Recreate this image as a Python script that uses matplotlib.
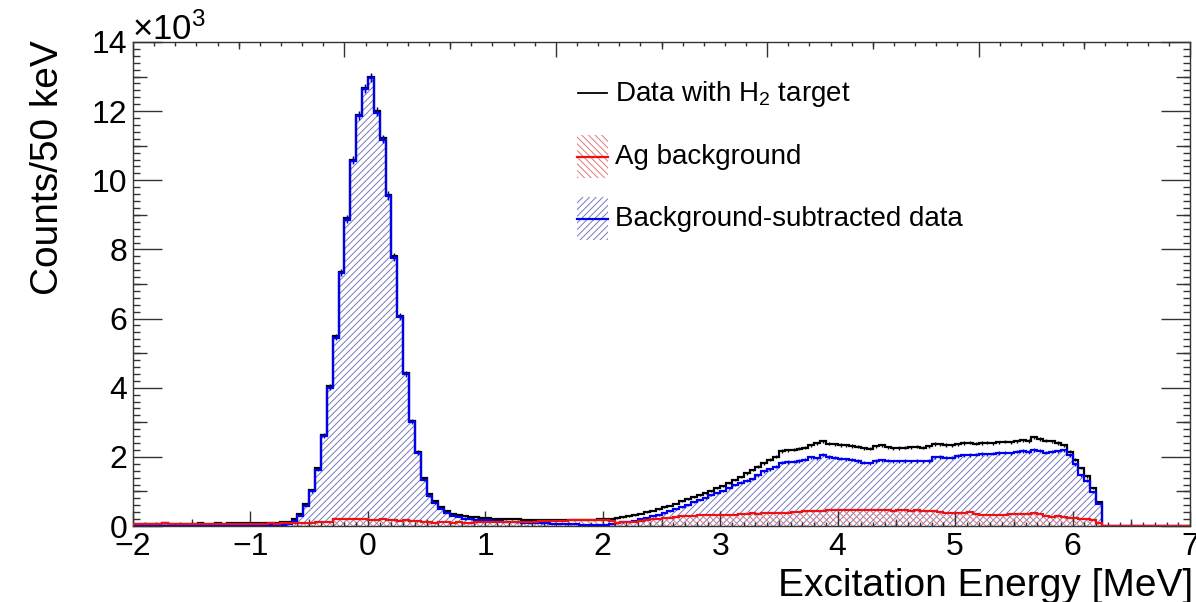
import numpy as np
import matplotlib
matplotlib.use('Agg')
import matplotlib.pyplot as plt
from matplotlib.patches import Rectangle
from matplotlib.lines import Line2D
from matplotlib.ticker import MultipleLocator, FuncFormatter

plt.rcParams['font.family'] = ['Liberation Sans', 'DejaVu Sans']
plt.rcParams['mathtext.fontset'] = 'custom'
plt.rcParams['mathtext.rm'] = 'Liberation Sans'
plt.rcParams['mathtext.it'] = 'Liberation Sans:italic'
plt.rcParams['hatch.linewidth'] = 0.7

# 50 keV bins, -2 .. 7 MeV (180 bins)
edges = np.linspace(-2.0, 7.0, 181)

# counts per bin, one line per MeV
data_h2 = [
    70, 65, 72, 68, 66, 74, 70, 68, 72, 66, 70, 74, 68, 72, 75, 70, 78, 74, 80, 82,
    85, 88, 92, 95, 100, 110, 125, 216, 340, 630, 1040, 1670, 2630, 4040, 5490, 7360, 8900, 10600, 11900, 12680,
    12990, 12000, 11210, 9580, 7800, 6080, 4430, 3050, 2140, 1380, 920, 725, 560, 420, 350, 310, 290, 270, 250, 235,
    225, 215, 208, 200, 195, 192, 188, 185, 182, 180, 178, 176, 175, 175, 176, 178, 180, 182, 185, 190,
    195, 205, 225, 255, 285, 320, 360, 405, 445, 495, 540, 590, 650, 715, 770, 830, 890, 950, 1010, 1090,
    1150, 1240, 1330, 1420, 1520, 1620, 1720, 1820, 1910, 2000, 2170, 2190, 2210, 2240, 2270, 2330, 2390, 2450, 2380, 2360,
    2340, 2330, 2310, 2290, 2250, 2240, 2300, 2330, 2280, 2250, 2260, 2270, 2280, 2290, 2270, 2300, 2370, 2360, 2340, 2330,
    2360, 2400, 2410, 2380, 2400, 2410, 2390, 2420, 2440, 2420, 2450, 2480, 2460, 2560, 2520, 2470, 2450, 2400, 2330, 2150,
    1920, 1680, 1440, 1090, 690, 0, 0, 0, 0, 0, 0, 0, 0, 0, 0, 0, 0, 0, 0, 0,
]

ag_bkg = [
    55, 62, 58, 50, 60, 78, 72, 58, 62, 55, 60, 58, 64, 56, 62, 60, 66, 60, 64, 68,
    68, 70, 72, 75, 72, 78, 80, 85, 90, 95, 100, 110, 115, 120, 205, 215, 195, 205, 190, 200,
    185, 175, 190, 170, 160, 155, 160, 150, 140, 130, 110, 100, 105, 110, 100, 105, 95, 100, 110, 105,
    105, 110, 110, 115, 118, 120, 125, 128, 130, 135, 138, 140, 145, 150, 160, 170, 175, 178, 180, 180,
    170, 140, 100, 105, 110, 125, 150, 185, 195, 210, 220, 230, 255, 285, 285, 300, 315, 310, 315, 320,
    320, 315, 320, 340, 360, 370, 360, 375, 380, 385, 390, 380, 400, 410, 420, 440, 435, 445, 450, 460,
    470, 465, 475, 460, 455, 460, 465, 455, 450, 445, 460, 450, 440, 455, 430, 425, 420, 410, 390, 370,
    380, 390, 395, 360, 330, 320, 310, 325, 330, 340, 350, 360, 350, 385, 340, 300, 265, 280, 250, 235,
    220, 205, 200, 160, 90, 0, 0, 0, 0, 0, 0, 0, 0, 0, 0, 0, 0, 0, 0, 0,
]

subtracted = [
    15, 10, 14, 18, 12, 8, 10, 12, 14, 12, 15, 18, 12, 16, 14, 12, 16, 15, 18, 16,
    20, 22, 25, 25, 30, 40, 60, 150, 300, 590, 1000, 1630, 2590, 4000, 5450, 7320, 8860, 10560, 11860, 12640,
    12950, 11960, 11170, 9540, 7760, 6040, 4390, 3010, 2100, 1330, 870, 670, 505, 390, 300, 270, 200, 190, 180, 170,
    160, 150, 140, 130, 120, 110, 100, 95, 90, 80, 75, 70, 60, 55, 50, 45, 40, 35, 30, 25,
    40, 60, 90, 110, 130, 150, 190, 230, 280, 320, 370, 420, 490, 550, 610, 680, 740, 810, 890, 960,
    1020, 1100, 1190, 1250, 1310, 1360, 1470, 1580, 1640, 1720, 1830, 1850, 1860, 1880, 1920, 1990, 1960, 2060, 2000, 1980,
    1950, 1930, 1920, 1880, 1830, 1810, 1880, 1900, 1890, 1870, 1870, 1880, 1870, 1880, 1870, 1880, 1990, 2000, 1980, 1980,
    2020, 2040, 2050, 2060, 2080, 2070, 2090, 2110, 2120, 2100, 2150, 2170, 2140, 2200, 2180, 2120, 2150, 2160, 2190, 2050,
    1780, 1470, 1310, 980, 650, 0, 0, 0, 0, 0, 0, 0, 0, 0, 0, 0, 0, 0, 0, 0,
]

data_h2 = np.array(data_h2, dtype=float)
ag_bkg = np.array(ag_bkg, dtype=float)
subtracted = np.array(subtracted, dtype=float)
centers = 0.5 * (edges[:-1] + edges[1:])

W, H = 1196, 602
fig = plt.figure(figsize=(W / 100, H / 100), dpi=100)
ax = fig.add_axes([133 / W, 1 - 526 / H, (1190 - 133) / W, (526 - 42) / H])

blue_hatch = '#7878c0'
red_hatch = '#e07878'

# hatched fills
ax.stairs(subtracted, edges, fill=True, facecolor='none', edgecolor=blue_hatch,
          linewidth=0, hatch='/////', zorder=1)
ax.stairs(ag_bkg, edges, fill=True, facecolor='none', edgecolor=red_hatch,
          linewidth=0, hatch='\\\\\\\\\\', zorder=1.5)

# histogram outlines + error bars
ax.stairs(data_h2, edges, color='black', linewidth=1.6, zorder=3)
m = data_h2 > 0
ax.errorbar(centers[m], data_h2[m], yerr=np.sqrt(data_h2[m]), fmt='none',
            ecolor='black', elinewidth=1, zorder=3)
ax.stairs(subtracted, edges, color='#0000ee', linewidth=1.6, zorder=4)
m = subtracted > 0
ax.errorbar(centers[m], subtracted[m], yerr=np.sqrt(data_h2[m]), fmt='none',
            ecolor='#0000ee', elinewidth=1, zorder=4)
ax.stairs(ag_bkg, edges, color='#ee1111', linewidth=1.6, zorder=5)

ax.set_xlim(-2, 7)
ax.set_ylim(0, 14000)

tick_col = '#333333'
for s in ax.spines.values():
    s.set_color(tick_col)
    s.set_linewidth(1.0)

ax.xaxis.set_major_locator(MultipleLocator(1))
ax.xaxis.set_minor_locator(MultipleLocator(0.1))
ax.yaxis.set_major_locator(MultipleLocator(2000))
ax.yaxis.set_minor_locator(MultipleLocator(200))
ax.yaxis.set_major_formatter(FuncFormatter(lambda v, p: f'{v / 1000:g}'))

ax.tick_params(axis='x', which='major', direction='in', length=10.8, width=1,
               color=tick_col, labelsize=23, pad=4, top=False)
ax.tick_params(axis='x', which='minor', direction='in', length=2.6, width=1,
               color=tick_col, top=False)
ax.tick_params(axis='y', which='major', direction='in', length=20.8, width=1,
               color=tick_col, labelsize=23, pad=4, right=True)
ax.tick_params(axis='y', which='minor', direction='in', length=5, width=1,
               color=tick_col, right=True)

# medium ticks (half divisions)
sx = ax.secondary_xaxis('bottom')
sx.set_xticks(np.arange(-1.5, 7, 1))
sx.tick_params(direction='in', length=5, width=1, color=tick_col, labelbottom=False)
sx.spines['bottom'].set_visible(False)
for side in ('left', 'right'):
    sy = ax.secondary_yaxis(side)
    sy.set_yticks(np.arange(1000, 14000, 2000))
    sy.tick_params(direction='in', length=10, width=1, color=tick_col,
                   labelleft=False, labelright=False)
    sy.spines[side].set_visible(False)

# top axis (unlabelled, its own scale 0..5)
fwd = lambda e: (np.asarray(e) + 2.0) * 5.0 / 9.0
inv = lambda u: np.asarray(u) * 9.0 / 5.0 - 2.0
tx = ax.secondary_xaxis('top', functions=(fwd, inv))
tx.xaxis.set_major_locator(MultipleLocator(1))
tx.xaxis.set_minor_locator(MultipleLocator(0.1))
tx.tick_params(which='major', direction='in', length=10.8, width=1, color=tick_col, labeltop=False)
tx.tick_params(which='minor', direction='in', length=2.6, width=1, color=tick_col)
tx.spines['top'].set_visible(False)
tx2 = ax.secondary_xaxis('top', functions=(fwd, inv))
tx2.set_xticks(np.arange(0.5, 5, 1))
tx2.tick_params(direction='in', length=5, width=1, color=tick_col, labeltop=False)
tx2.spines['top'].set_visible(False)


def fx(x):
    return x / W


def fy(y):
    return 1 - y / H


# axis titles
fig.text(fx(132), fy(40), r'$\times$10$^{3}$', fontsize=25, ha='left', va='baseline')
fig.text(fx(48), fy(168), 'Counts/50 keV', fontsize=28, rotation=90, ha='center', va='center')
fig.text(fx(1193), fy(596), 'Excitation Energy [MeV]', fontsize=28, ha='right', va='baseline')

# legend
fig.add_artist(Line2D([fx(578), fx(607)], [fy(93), fy(93)], color='black', lw=1.3))
fig.add_artist(Rectangle((fx(577), fy(178)), 31 / W, 43 / H, transform=fig.transFigure,
                         facecolor='none', edgecolor=red_hatch, lw=0, hatch='\\\\\\\\\\'))
fig.add_artist(Line2D([fx(577), fx(608)], [fy(157), fy(157)], color='#ee1111', lw=1.6))
fig.add_artist(Rectangle((fx(577), fy(240)), 31 / W, 43 / H, transform=fig.transFigure,
                         facecolor='none', edgecolor=blue_hatch, lw=0, hatch='/////'))
fig.add_artist(Line2D([fx(577), fx(608)], [fy(219), fy(219)], color='#0000ee', lw=1.6))

fig.text(fx(615), fy(101), 'Data with H$_2$ target', fontsize=20, va='baseline')
fig.text(fx(615), fy(164), 'Ag background', fontsize=20, va='baseline')
fig.text(fx(615), fy(226), 'Background-subtracted data', fontsize=20, va='baseline')

fig.savefig('out.png', dpi=100)
